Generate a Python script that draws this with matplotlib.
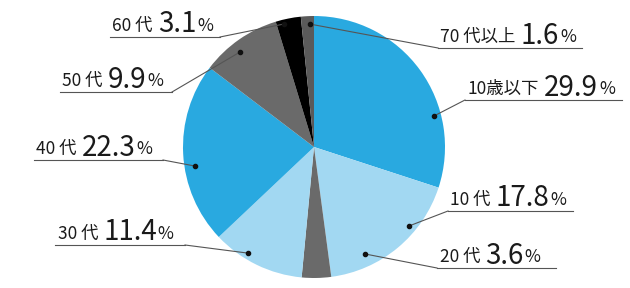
import matplotlib
matplotlib.use("Agg")
import matplotlib.pyplot as plt
import numpy as np

plt.rcParams['font.family'] = ['Noto Sans CJK JP', 'DejaVu Sans']

W, H = 630, 288

# =========================
# DATA
# =========================
groups = ["10歳以下", "10 代", "20 代", "30 代", "40 代", "50 代", "60 代", "70 代以上"]
shares = [29.9, 17.8, 3.6, 11.4, 22.3, 9.9, 3.1, 1.6]
colors = ["#29a9e0", "#a2d8f2", "#6a6a6a", "#a2d8f2", "#29a9e0", "#6a6a6a", "#000000", "#5a5a5a"]

# =========================
# LAYOUT (pixels, origin top-left)
# =========================
cx, cy, radius = 314, 147, 131
# leader dot: angle clockwise from 12 o'clock, distance from centre
dot_ang = [75.5, 129.7, 154.5, 211.9, 260.9, 322.1, 346.3, 358.1]
dot_r = [124, 123.6, 118.5, 125, 120.5, 120.4, 126.6, 123]
# underline: x start, x end, y
underlines = [(465, 622, 100), (448, 573, 211), (437, 556, 268), (55, 185, 245),
              (34, 163, 160), (60, 172, 92), (110, 220, 37), (438, 582, 48)]

small_size = 12.5
big_size = 20
pct_size = 12.5
line_col = "#555555"
txt_col = "#1a1a1a"

fig = plt.figure(figsize=(W / 100, H / 100), dpi=100)
ax = fig.add_axes([0, 0, 1, 1])
ax.pie(shares, colors=colors, startangle=90, counterclock=False,
       center=(cx, H - cy), radius=radius, wedgeprops=dict(linewidth=0))
ax.set_xlim(0, W)
ax.set_ylim(0, H)
ax.set_aspect('equal')
ax.axis('off')

renderer = fig.canvas.get_renderer()


def right_edge(t):
    bb = t.get_window_extent(renderer)
    return ax.transData.inverted().transform((bb.x1, bb.y1))[0]


for name, val, ang, r, (x0, x1, y) in zip(groups, shares, dot_ang, dot_r, underlines):
    th = np.radians(ang)
    dx = cx + r * np.sin(th)
    dy = cy - r * np.cos(th)

    # underline + leader
    ax.plot([x0, x1], [H - y, H - y], color=line_col, lw=0.8)
    end_x = x0 if x0 > cx else x1
    ax.plot([dx, end_x], [H - dy, H - y], color=line_col, lw=0.8)
    ax.plot(dx, H - dy, "o", color="#111111", ms=3)

    # label: name (small) + value (big) + % (small)
    t1 = ax.text(x0 + 2.5, H - (y - 6.5), name, fontsize=small_size,
                 ha="left", va="baseline", color=txt_col)
    xe = right_edge(t1)
    t2 = ax.text(xe + 5, H - (y - 4.5), f"{val:.1f}", fontsize=big_size,
                 ha="left", va="baseline", color=txt_col)
    xe = right_edge(t2)
    ax.text(xe + 1, H - (y - 6), "%", fontsize=pct_size,
            ha="left", va="baseline", color=txt_col)

fig.savefig("out.png", dpi=100)
